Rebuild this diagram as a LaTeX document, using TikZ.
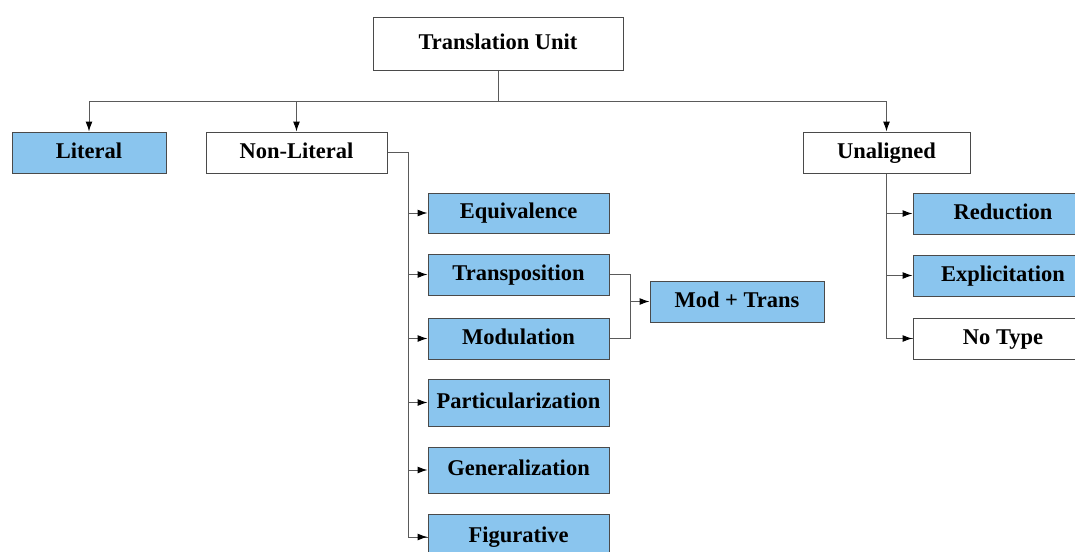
\documentclass[tikz,border=0pt]{standalone}
\usepackage{fontspec}
\setmainfont{Liberation Serif}
\usetikzlibrary{arrows.meta}
\definecolor{boxblue}{HTML}{8AC5EE}
\definecolor{boxline}{HTML}{4A4A4A}
\definecolor{conn}{HTML}{5A5A5A}
\begin{document}
\begin{tikzpicture}[x=1pt,y=-1pt,
  base/.style={draw=boxline,line width=1pt,inner sep=0pt,text height=15pt,text depth=3.5pt,
    font=\bfseries\fontsize{22.5}{26}\selectfont,anchor=center},
  wbox/.style={base,fill=white},
  bbox/.style={base,fill=boxblue},
  conline/.style={draw=conn,line width=1pt},
  arr/.style={conline,-{Latex[length=10pt,width=7pt,black]}}]
\useasboundingbox (0,0) rectangle (1075,551);
\clip (0,0) rectangle (1075,551);
\fill[white] (0,0) rectangle (1075,551);
% top
\node[wbox,minimum width=250pt,minimum height=52pt] (tu) at (498,44) {Translation Unit};
\node[bbox,minimum width=154pt,minimum height=41pt] (lit) at (89,152.5) {Literal};
\node[wbox,minimum width=181pt,minimum height=41pt] (nonlit) at (296.5,152.5) {Non-Literal};
\node[wbox,minimum width=167pt,minimum height=41pt] (unal) at (886.5,152.5) {Unaligned};
% non-literal children
\node[bbox,minimum width=181pt,minimum height=40pt] (equ) at (518.5,213) {Equivalence};
\node[bbox,minimum width=181pt,minimum height=41pt] (trp) at (518.5,274.5) {Transposition};
\node[bbox,minimum width=181pt,minimum height=41pt] (mod) at (518.5,338.5) {Modulation};
\node[bbox,minimum width=181pt,minimum height=47pt] (par) at (518.5,402.5) {Particularization};
\node[bbox,minimum width=181pt,minimum height=46pt] (gen) at (518.5,470) {Generalization};
\node[bbox,minimum width=181pt,minimum height=46pt] (fig) at (518.5,537) {Figurative};
\node[bbox,minimum width=174pt,minimum height=41pt] (mt) at (737,301.5) {Mod + Trans};
% unaligned children
\node[bbox,minimum width=180pt,minimum height=41pt] (red) at (1003,213.5) {Reduction};
\node[bbox,minimum width=180pt,minimum height=41pt] (exp) at (1003,275.5) {Explicitation};
\node[wbox,minimum width=180pt,minimum height=41pt] (not) at (1003,338.5) {No Type};
% coordinates
\coordinate (bus) at (498,101);
\coordinate (nlx) at (408,152.5);
\coordinate (mtj) at (630,301.5);
% top bus
\draw[conline] (tu.south) -- (bus);
\draw[arr] (bus) -| (lit.north);
\draw[arr] (bus) -| (nonlit.north);
\draw[arr] (bus) -| (unal.north);
% non-literal tree
\draw[conline] (nonlit.east) -- (nlx) |- (fig.west);
\foreach \n in {equ,trp,mod,par,gen,fig}{
  \draw[arr] (nlx |- \n.west) -- (\n.west);
}
% mod+trans
\draw[conline] (trp.east) -| (mtj) |- (mod.east);
\draw[arr] (mtj) -- (mt.west);
% unaligned tree
\draw[conline] (unal.south) |- (not.west);
\foreach \n in {red,exp,not}{
  \draw[arr] (unal.south |- \n.west) -- (\n.west);
}
\end{tikzpicture}
\end{document}
